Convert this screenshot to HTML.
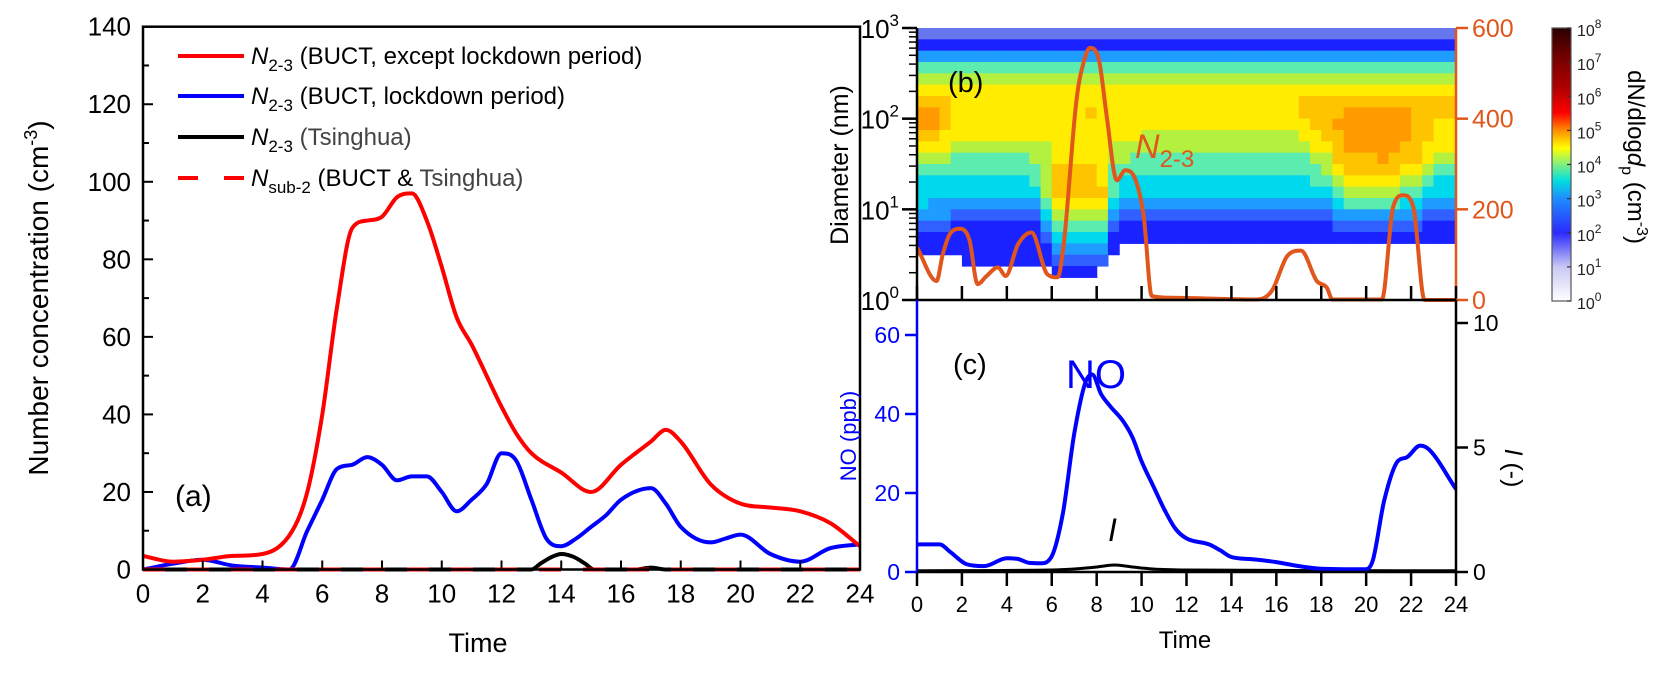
<!DOCTYPE html>
<html><head><meta charset="utf-8"><style>
html,body{margin:0;padding:0;background:#fff;}
svg{display:block;font-family:"Liberation Sans",Arial,sans-serif;}
</style></head><body>
<svg id="fig" width="1662" height="675" viewBox="0 0 1662 675" xmlns="http://www.w3.org/2000/svg">
<defs>
<linearGradient id="cbg" x1="0" y1="1" x2="0" y2="0">
<stop offset="0" stop-color="#ffffff"/><stop offset="0.125" stop-color="#c8c8f4"/><stop offset="0.25" stop-color="#2a2aff"/>
<stop offset="0.375" stop-color="#1e8cff"/><stop offset="0.44" stop-color="#00dede"/><stop offset="0.5" stop-color="#80f080"/>
<stop offset="0.56" stop-color="#ffff00"/><stop offset="0.625" stop-color="#ff8c00"/><stop offset="0.69" stop-color="#ff0000"/>
<stop offset="0.78" stop-color="#b00000"/><stop offset="0.9" stop-color="#700000"/><stop offset="1" stop-color="#2a0000"/>
</linearGradient>
</defs>
<g id="pa"></g>
<g id="pb"></g>
<g id="pc"></g>
<g id="cb"></g>
</svg>
<script>
// ---------- data ----------
const hoursA_red = [0,1,2,3,4,5,5.5,6,6.5,7,7.5,8,8.5,9,9.5,10,10.5,11,12,12.5,13,14,15,16,17,17.5,18,19,20,21,22,23,24];
const valsA_red  = [3.5,2,2.5,3.5,4,10,20,40,68,88,90,91,96,97,90,78,65,58,42,35,30,25,20,27,33,36,33,22,17,16,15,12,6];
const hoursA_blue = [0,1,2,3,4,4.9,5.5,6,6.5,7,7.5,8,8.5,9,9.5,10,10.5,11,11.5,12,12.5,13,13.5,14,14.5,15,15.5,16,17,17.5,18,19,19.5,20,21,22,23,24];
const valsA_blue  = [0,1.5,2.5,1,0.5,0,10,18,26,27,29,27,23,24,24,20,15,18,22,30,28,18,8,6,8,11,14,18,21,17,11,7,8,9,4,2,5.5,6.5];
const hoursA_black = [0,13,13.3,13.7,14,14.4,14.8,15.1,16.5,17,17.5,24];
const valsA_black  = [0,0,1.5,3.3,4,3.3,1.5,0,0,0.5,0,0];
const hoursA_sub = [0,24];
const valsA_sub  = [0,0];
const ticksA_x = [0,2,4,6,8,10,12,14,16,18,20,22,24];
const ticksA_y = [0,20,40,60,80,100,120,140];

const hoursB = [0,0.87,1.15,1.47,1.94,2.34,2.7,3.1,3.6,3.95,4.5,5.1,5.8,6.26,6.55,7.1,7.5,7.7,8.1,8.45,8.9,9.27,9.74,10.1,10.45,11.3,15.1,15.8,16.5,17.1,17.8,18.25,18.5,20.7,21.2,21.65,22.1,22.6,24];
const valsB  = [116,42,101,146,157,131,35,53,72,53,123,149,57,50,131,441,537,556,530,404,264,286,264,183,9,5,1,20,98,109,42,27,1,1,205,231,205,0,0];
const ticksB_right = [0,200,400,600];
const decadesB = [0,1,2,3];
const heatRows = [
"aaaaaaaa aaaaaaaa aaaaaaaa aaaaaaaa aaaaaaaa aaaaaaaa",
"11111111 11111111 11111111 11111111 11111111 11111111",
"33333333 33333333 33333333 33333333 33333333 33333333",
"55555555 55555555 55555555 55555555 55555555 55555555",
"66666666 66666666 66666666 66666666 66666666 66666666",
"77777777 77777777 77777777 77777777 77777777 77777777",
"88877777 77777777 77777777 77777777 77888888 88888888",
"99877777 77777778 77777777 77777777 77888899 99998888",
"99877777 77777777 77777777 77777777 77788999 99998877",
"88777777 77777777 77776666 66666666 66778899 99998877",
"77766666 66667777 76666666 66666666 66677899 99988777",
"66655555 55667777 76655555 55555555 55566888 89888766",
"55555555 55568888 75555555 55555555 55556788 88877655",
"44444444 44568888 75444444 44444444 44455677 77766544",
"44444444 44468888 85444444 44444444 44444566 66655444",
"43333333 33357777 74333333 33333333 33333455 55544333",
"33322222 22246666 63222222 22222222 22222333 33333222",
"22211111 11135555 52111111 11111111 11111222 22222111",
"11111111 11124444 41111111 11111111 11111111 11111111",
"11111111 11113333 31000000 00000000 00000000 00000000",
"00001111 11112222 20000000 00000000 00000000 00000000",
"00000000 00001111 00000000 00000000 00000000 00000000",
"00000000 00000000 00000000 00000000 00000000 00000000",
"00000000 00000000 00000000 00000000 00000000 00000000"];

const hoursC = [0,1,1.5,2.2,3,4,4.5,5,5.5,6,6.5,7,7.5,7.8,8.2,8.6,9.2,9.6,10,10.5,11,11.5,12,13,13.5,14,15,16,17,18,19,20,20.3,20.8,21.4,21.8,22.4,22.8,24];
const valsC_NO = [7,7,5,2,1.5,3.5,3.3,2.3,2.2,4,15,35,48,50,45,42,38,34,28,22,16,11,8.5,7,5.5,3.8,3.2,2.5,1.5,0.8,0.7,0.7,3,18,28,29,32,31,21];
const hoursC_I = [0,6,7,8,8.8,9.6,10.5,12,24];
const valsC_I  = [0.05,0.08,0.12,0.2,0.28,0.2,0.12,0.08,0.05];
const ticksC_left = [0,20,40,60];
const ticksC_right = [0,5,10];
const cbLabels = [0,1,2,3,4,5,6,7,8];

// ---------- helpers ----------
const NS="http://www.w3.org/2000/svg";
function mk(parent,tag,attrs,text){const e=document.createElementNS(NS,tag);for(const k in attrs)e.setAttribute(k,attrs[k]);if(text!==undefined)e.textContent=text;parent.appendChild(e);return e;}
// monotone cubic (no overshoot)
function smooth(pts){const n=pts.length;if(n<2)return "";const dx=[],m=[],s=[];
for(let i=0;i<n-1;i++){dx[i]=pts[i+1][0]-pts[i][0];s[i]=(pts[i+1][1]-pts[i][1])/dx[i];}
m[0]=s[0];m[n-1]=s[n-2];for(let i=1;i<n-1;i++){m[i]=(s[i-1]*s[i]<=0)?0:(s[i-1]+s[i])/2;}
for(let i=0;i<n-1;i++){if(s[i]===0){m[i]=0;m[i+1]=0;continue;}const a=m[i]/s[i],b=m[i+1]/s[i],h=a*a+b*b;if(h>9){const t=3/Math.sqrt(h);m[i]=t*a*s[i];m[i+1]=t*b*s[i];}}
let d="M"+pts[0][0].toFixed(1)+","+pts[0][1].toFixed(1);
for(let i=0;i<n-1;i++){const h=dx[i]/3;d+=" C"+(pts[i][0]+h).toFixed(1)+","+(pts[i][1]+m[i]*h).toFixed(1)+" "+(pts[i+1][0]-h).toFixed(1)+","+(pts[i+1][1]-m[i+1]*h).toFixed(1)+" "+pts[i+1][0].toFixed(1)+","+pts[i+1][1].toFixed(1);}
return d;}

// ---------- panel a ----------
const pa=document.getElementById('pa');
const aL=143,aR=860,aT=26.7,aB=569.5;
const xA=t=>aL+t*(aR-aL)/24, yA=v=>aB-v*(aB-aT)/140;
function lineA(hs,vs,col,dash,name){const p=mk(pa,'path',{d:smooth(hs.map((h,i)=>[xA(h),yA(vs[i])])),fill:'none',stroke:col,'stroke-width':4,'stroke-dasharray':dash||'none','stroke-linejoin':'round'});

}
lineA(hoursA_black,valsA_black,'#000',null,'line-tsinghua');
lineA(hoursA_blue,valsA_blue,'#0000ff',null,'line-buct-lockdown');
lineA(hoursA_red,valsA_red,'#ff0000',null,'line-buct-except-lockdown');
lineA(hoursA_sub,valsA_sub,'#ff0000','22,22','line-sub2');
mk(pa,'rect',{x:aL,y:aT,width:aR-aL,height:aB-aT,fill:'none',stroke:'#000','stroke-width':2.5,});
ticksA_x.forEach(t=>{mk(pa,'line',{x1:xA(t),x2:xA(t),y1:aB,y2:aB-9,stroke:'#000','stroke-width':2});
const tx=mk(pa,'text',{x:xA(t),y:aB+33,'font-size':26,'text-anchor':'middle'},t);

});
ticksA_y.forEach(v=>{mk(pa,'line',{x1:aL,x2:aL+10,y1:yA(v),y2:yA(v),stroke:'#000','stroke-width':2});
if(v<140)mk(pa,'line',{x1:aL,x2:aL+6,y1:yA(v+10),y2:yA(v+10),stroke:'#000','stroke-width':2});
const tx=mk(pa,'text',{x:aL-12,y:yA(v)+9,'font-size':26,'text-anchor':'end'},v);

});
</script>
<script>
(function(){
const pa=document.getElementById('pa');
pa.insertAdjacentHTML('beforeend',`
<text x="478" y="652" font-size="27" text-anchor="middle">Time</text>
<text transform="translate(48,298) rotate(-90)" font-size="28" text-anchor="middle">Number concentration (cm<tspan dy="-11" font-size="18">-3</tspan><tspan dy="11">)</tspan></text>
<text x="175" y="506" font-size="30">(a)</text>
<g font-size="24">
<g><line x1="178" x2="244" y1="56" y2="56" stroke="#ff0000" stroke-width="4"/><text x="251" y="64"><tspan font-style="italic">N</tspan><tspan dy="7" font-size="17">2-3</tspan><tspan dy="-7"> (BUCT, except lockdown period)</tspan></text></g>
<g><line x1="178" x2="244" y1="96" y2="96" stroke="#0000ff" stroke-width="4"/><text x="251" y="104"><tspan font-style="italic">N</tspan><tspan dy="7" font-size="17">2-3</tspan><tspan dy="-7"> (BUCT, lockdown period)</tspan></text></g>
<g><line x1="178" x2="244" y1="137" y2="137" stroke="#000" stroke-width="4"/><text x="251" y="145"><tspan font-style="italic">N</tspan><tspan dy="7" font-size="17">2-3</tspan><tspan dy="-7" fill="#444"> (Tsinghua)</tspan></text></g>
<g><line x1="178" x2="244" y1="178" y2="178" stroke="#ff0000" stroke-width="4" stroke-dasharray="20,26"/><text x="251" y="186"><tspan font-style="italic">N</tspan><tspan dy="7" font-size="17">sub-2</tspan><tspan dy="-7"> (BUCT &amp; </tspan><tspan fill="#444">Tsinghua)</tspan></text></g>
</g>`);
})();
</script>
<script>
// ---------- panel b ----------
(function(){
const pb=document.getElementById('pb');
const bL=917,bR=1456,bT=28,bB=300;
const xB=t=>bL+t*(bR-bL)/24, yD=lg=>bB-lg*(bB-bT)/3, yN=v=>bB-v*(bB-bT)/600;
const cmap={a:'#6677ee','1':'#1a22ff','2':'#3060ff','3':'#1e9cff','4':'#00d8ee','5':'#5cecb0','6':'#b4f040','7':'#ffec00','8':'#ffc400','9':'#ff9a00'};
const hm=mk(pb,'g',{});


heatRows.forEach((r,ri)=>{const s=r.replace(/ /g,'');const lgTop=3-ri/8;
for(let c=0;c<s.length;c++){const ch=s[c];if(ch==='0')continue;
const cell=mk(hm,'rect',{x:xB(c/2).toFixed(2),y:yD(lgTop).toFixed(2),width:((bR-bL)/48+0.6).toFixed(2),height:((bB-bT)/24+0.6).toFixed(2),fill:cmap[ch]});

}});
const ln=mk(pb,'path',{d:smooth(hoursB.map((h,i)=>[xB(h),yN(valsB[i])])),fill:'none',stroke:'#e0561c','stroke-width':4,'stroke-linejoin':'round'});


mk(pb,'line',{x1:bL,x2:bL,y1:bT,y2:bB,stroke:'#000','stroke-width':2.5});
mk(pb,'line',{x1:bL,x2:bR,y1:bB,y2:bB,stroke:'#000','stroke-width':2.5});
mk(pb,'line',{x1:bR,x2:bR,y1:bT,y2:bB,stroke:'#e0561c','stroke-width':2.5});
for(let t=0;t<=24;t+=2)mk(pb,'line',{x1:xB(t),x2:xB(t),y1:bB,y2:bB-14,stroke:'#000','stroke-width':2.5});
decadesB.forEach(d=>{mk(pb,'line',{x1:bL,x2:bL-15,y1:yD(d),y2:yD(d),stroke:'#000','stroke-width':2.5});
if(d<3)for(let m=2;m<=9;m++)mk(pb,'line',{x1:bL,x2:bL-8,y1:yD(d+Math.log10(m)),y2:yD(d+Math.log10(m)),stroke:'#000','stroke-width':1.5});
const tx=mk(pb,'text',{x:bL-18,y:yD(d)+10,'font-size':26,'text-anchor':'end'},'10');
mk(tx,'tspan',{dy:-12,'font-size':17},String(d));

});
ticksB_right.forEach(v=>{mk(pb,'line',{x1:bR,x2:bR+12,y1:yN(v),y2:yN(v),stroke:'#e0561c','stroke-width':2.5});
const tx=mk(pb,'text',{x:bR+16,y:yN(v)+9,'font-size':25,fill:'#e0561c'},v);

});
pb.insertAdjacentHTML('beforeend',`
<text transform="translate(848,165) rotate(-90)" font-size="25" text-anchor="middle">Diameter (nm)</text>
<text x="948" y="92" font-size="29">(b)</text>
<text x="1135" y="158" font-size="34" fill="#e0561c" font-style="italic">N<tspan dy="9" font-size="24" font-style="normal">2-3</tspan></text>`);
})();
</script>
<script>
// ---------- panel c ----------
(function(){
const pc=document.getElementById('pc');
const cL=917,cR=1456,cT=300,cB=572;
const xC=t=>cL+t*(cR-cL)/24, yC=v=>cB-v*3.95, yI=v=>cB-v*24.9;
const li=mk(pc,'path',{d:smooth(hoursC_I.map((h,i)=>[xC(h),yI(valsC_I[i])])),fill:'none',stroke:'#000','stroke-width':3});


const ln=mk(pc,'path',{d:smooth(hoursC.map((h,i)=>[xC(h),yC(valsC_NO[i])])),fill:'none',stroke:'#0000ff','stroke-width':4,'stroke-linejoin':'round'});


mk(pc,'line',{x1:cL,x2:cL,y1:cT,y2:cB,stroke:'#0000ff','stroke-width':2.5});
mk(pc,'line',{x1:cR,x2:cR,y1:cT,y2:cB,stroke:'#000','stroke-width':2.5});
mk(pc,'line',{x1:cL,x2:cR,y1:cB,y2:cB,stroke:'#000','stroke-width':2.5});
for(let t=0;t<=24;t+=2){mk(pc,'line',{x1:xC(t),x2:xC(t),y1:cB,y2:cB+14,stroke:'#000','stroke-width':2.5});
const tx=mk(pc,'text',{x:xC(t),y:cB+40,'font-size':22,'text-anchor':'middle'},t);

}
ticksC_left.forEach(v=>{mk(pc,'line',{x1:cL,x2:cL-12,y1:yC(v),y2:yC(v),stroke:'#0000ff','stroke-width':2.5});
const tx=mk(pc,'text',{x:cL-17,y:yC(v)+8,'font-size':23,'text-anchor':'end',fill:'#0000ff'},v);

});
ticksC_right.forEach(v=>{mk(pc,'line',{x1:cR,x2:cR+12,y1:yI(v),y2:yI(v),stroke:'#000','stroke-width':2.5});
const tx=mk(pc,'text',{x:cR+17,y:yI(v)+8,'font-size':23},v);

});
pc.insertAdjacentHTML('beforeend',`
<text x="1185" y="648" font-size="24" text-anchor="middle">Time</text>
<text transform="translate(856,436) rotate(-90)" font-size="22" fill="#0000ff" text-anchor="middle">NO (ppb)</text>
<text transform="translate(1505,468) rotate(90)" font-size="25" text-anchor="middle"><tspan font-style="italic">I</tspan> (-)</text>
<text x="953" y="374" font-size="29">(c)</text>
<text x="1066" y="388" font-size="40" fill="#0000ff">NO</text>
<text x="1108" y="541" font-size="32" font-style="italic">I</text>`);
})();
</script>
<script>
// ---------- colorbar ----------
(function(){
const cb=document.getElementById('cb');
const top=28,bot=301,x0=1552,x1=1571;
const yL=l=>bot-l*(bot-top)/8;
const bar=mk(cb,'rect',{x:x0,y:top,width:x1-x0,height:bot-top,fill:'url(#cbg)',stroke:'#555','stroke-width':1.2});


cbLabels.forEach(l=>{mk(cb,'line',{x1:x1,x2:x1-4,y1:yL(l),y2:yL(l),stroke:'#333','stroke-width':1.2});
const tx=mk(cb,'text',{x:1577,y:yL(l)+8,'font-size':16,fill:'#222'},'10');
mk(tx,'tspan',{dy:-8,'font-size':12},String(l));

});
cb.insertAdjacentHTML('beforeend',`<text transform="translate(1628,157) rotate(90)" font-size="24" text-anchor="middle">dN/dlog<tspan font-style="italic">d</tspan><tspan dy="6" font-size="16">p</tspan><tspan dy="-6"> (cm</tspan><tspan dy="-9" font-size="16">-3</tspan><tspan dy="9">)</tspan></text>`);
})();
</script>
</body></html>
